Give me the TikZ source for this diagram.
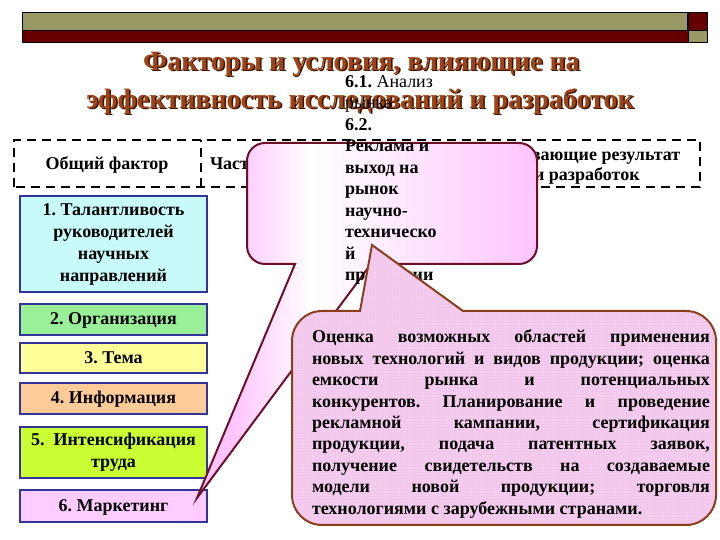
\documentclass[tikz,border=0pt]{standalone}
\usepackage{fontspec}
\setmainfont{Liberation Serif}[BoldFont={Liberation Serif Bold}]
\usetikzlibrary{patterns}
\frenchspacing
\definecolor{olivebar}{HTML}{999966}
\definecolor{darkredbar}{HTML}{660000}
\definecolor{titlebrown}{HTML}{9C4418}
\definecolor{titleshadow}{HTML}{3A1200}
\definecolor{boxblue}{HTML}{333399}
\definecolor{cyanfill}{HTML}{C8FAFA}
\definecolor{greenfill}{HTML}{99F099}
\definecolor{yellowfill}{HTML}{FFFF99}
\definecolor{peachfill}{HTML}{FFCC99}
\definecolor{limefill}{HTML}{CCFF33}
\definecolor{pinkfill}{HTML}{FFCCFF}
\definecolor{calloutpink}{HTML}{FFC4FF}
\definecolor{callAborder}{HTML}{6E0F28}
\definecolor{callBborder}{HTML}{8B3E1C}
\definecolor{callBfill}{HTML}{F3C6EC}
\pgfdeclarehorizontalshading{calloutA}{100bp}{color(0bp)=(calloutpink); color(30bp)=(calloutpink); color(42bp)=(white); color(75bp)=(calloutpink); color(100bp)=(calloutpink)}
\begin{document}
\begin{tikzpicture}[x=1pt,y=1pt,
  every node/.style={inner sep=0pt, outer sep=0pt},
  barpart/.style={draw=black, line width=0.8pt},
  titletext/.style={font=\fontsize{28}{34}\selectfont\bfseries},
  headdash/.style={draw=black, line width=2pt, dash pattern=on 9pt off 6pt},
  hdr/.style={font=\fontsize{18}{22}\selectfont\bfseries},
  factorbox/.style={draw=boxblue, line width=2pt, minimum width=187pt,
    font=\fontsize{18}{22}\selectfont\bfseries, align=center},
  oneline/.style={text height=11pt, text depth=0pt},
  coltext/.style={font=\fontsize{18}{21.5}\selectfont\bfseries, anchor=base west},
  btext/.style={font=\fontsize{18}{21.5}\selectfont\bfseries, anchor=base west}
]
\useasboundingbox (0,0) rectangle (720,540);

% top bar
\path[barpart, fill=olivebar] (22,510) rectangle (687,528);
\path[barpart, fill=darkredbar] (22,498) rectangle (688,510);
\path[barpart, fill=darkredbar] (688,510) rectangle (707,528);
\path[barpart, fill=olivebar] (688,498) rectangle (707,510);

% title
\node[titletext, text=titleshadow] (t1s) at (363,474.5) {Факторы и условия, влияющие на};
\node[titletext, text=titlebrown] (t1) at (361.5,476) {Факторы и условия, влияющие на};
\node[titletext, text=titleshadow] (t2s) at (361.5,437.5) {эффективность исследований и разработок};
\node[titletext, text=titlebrown] (t2) at (360,439) {эффективность исследований и разработок};

% header
\draw[headdash] (14,353) rectangle (700,400);
\draw[headdash] (201,353) -- (201,400);
\node[hdr, anchor=base] (hgen) at (107,370) {Общий фактор};
\node[hdr, anchor=base west] (hpart) at (210,370) {Част};
\node[hdr, anchor=base west] (hc1) at (531,379.5) {вающие результат};
\node[hdr, anchor=base west] (hc2) at (534,359.5) {и разработок};

% factor boxes
\node[factorbox, fill=cyanfill, minimum height=96pt] (b1) at (113.5,296)
  {1. Талантливость\\руководителей\\научных\\направлений};
\node[factorbox, oneline, fill=greenfill, minimum height=31pt] (b2) at (113.5,220.5) {2. Организация};
\node[factorbox, oneline, fill=yellowfill, minimum height=30pt] (b3) at (113.5,182) {3. Тема};
\node[factorbox, oneline, fill=peachfill, minimum height=31pt] (b4) at (113.5,141.5) {4. Информация};
\node[factorbox, fill=limefill, minimum height=51pt] (b5) at (113.5,87.5) {5.\ \ Интенсификация\\труда};
\node[factorbox, oneline, fill=pinkfill, minimum height=32pt] (b6) at (113.5,34) {6. Маркетинг};

% upper callout
\coordinate (tipA) at (197,42);
\shadedraw[shading=calloutA, draw=callAborder, line width=2pt, line join=miter]
  (371,276) -- (519,276) arc[start angle=270, end angle=360, radius=18]
  -- (537,379) arc[start angle=0, end angle=90, radius=18]
  -- (265,397) arc[start angle=90, end angle=180, radius=18]
  -- (247,294) arc[start angle=180, end angle=270, radius=18]
  -- (295,276) -- (tipA) -- cycle;

% text column of upper callout
\node[coltext] (c0) at (345,452.5) {6.1. \mdseries Анализ};
\node[coltext] (c1) at (345,431) {\mdseries рынка};
\node[coltext] (c2) at (345,409.5) {6.2.};
\node[coltext] (c3) at (345,388) {Реклама и};
\node[coltext] (c4) at (345,366.5) {выход на};
\node[coltext] (c5) at (345,345) {рынок};
\node[coltext] (c6) at (345,323.5) {научно-};
\node[coltext] (c7) at (345,302) {техническо};
\node[coltext] (c8) at (345,280.5) {й};
\node[coltext] (c9) at (345,259) {продукции};

% lower callout
\coordinate (tipB) at (372,295);
\path[preaction={fill=callBfill}, pattern=dots, pattern color=white,
      draw=callBborder, line width=2pt, line join=miter]
  (463,229) -- (686,229) arc[start angle=90, end angle=0, radius=30]
  -- (716,45) arc[start angle=0, end angle=-90, radius=30]
  -- (322,15) arc[start angle=270, end angle=180, radius=30]
  -- (292,199) arc[start angle=180, end angle=90, radius=30]
  -- (360,229) -- (tipB) -- cycle;

\node[btext] (l1) at (312,197) {\makebox[398pt][s]{Оценка возможных областей применения}};
\node[btext] (l2) at (312,175.6) {\makebox[398pt][s]{новых технологий и видов продукции; оценка}};
\node[btext] (l3) at (312,154.2) {\makebox[398pt][s]{емкости рынка и потенциальных}};
\node[btext] (l4) at (312,132.8) {\makebox[398pt][s]{конкурентов. Планирование и проведение}};
\node[btext] (l5) at (312,111.4) {\makebox[398pt][s]{рекламной кампании, сертификация}};
\node[btext] (l6) at (312,90) {\makebox[398pt][s]{продукции, подача патентных заявок,}};
\node[btext] (l7) at (312,68.6) {\makebox[398pt][s]{получение свидетельств на создаваемые}};
\node[btext] (l8) at (312,47.2) {\makebox[398pt][s]{модели новой продукции; торговля}};
\node[btext] (l9) at (312,25.8) {технологиями с зарубежными странами.};
\end{tikzpicture}
\end{document}
